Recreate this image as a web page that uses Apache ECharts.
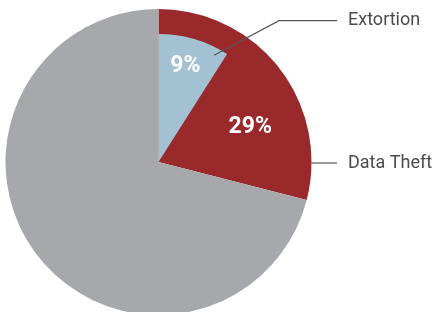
<!DOCTYPE html>
<html>
<head>
<meta charset="utf-8">
<script src="https://cdn.jsdelivr.net/npm/echarts@6/dist/echarts.min.js"></script>
<style>
  html, body { margin: 0; padding: 0; background: #fff; }
  #chart { width: 432px; height: 312px; }
</style>
</head>
<body>
<div id="chart"></div>
<script>
// data
var outerNames = ['Data Theft', 'Other'];
var outerValues = [29, 71];
var innerNames = ['Extortion', 'Rest'];
var innerValues = [9, 91];

var RED = '#9a292b', GRAY = '#a7a8ab', BLUE = '#a3c1d3', TEXT = '#4a4a50', LINE = '#555659';

// pie geometry
var cx = 158.5, cy = 162, R = 153, r = 128;
var labelX = 348;

function polar(deg, rad) {
  var a = deg * Math.PI / 180;
  return [cx + rad * Math.sin(a), cy - rad * Math.cos(a)];
}
function pctDeg(p) { return p * 3.6; }

var myChart = echarts.init(document.getElementById('chart'));

var pctFont = { color: '#fff', fontFamily: 'Roboto', fontWeight: 'bold', fontSize: 23 };
var nameFont = { color: TEXT, fontFamily: 'Roboto', fontSize: 18 };

function pieBase(radius, names, values, colors) {
  return {
    type: 'pie',
    center: [cx, cy],
    radius: radius,
    startAngle: 90,
    clockwise: true,
    silent: true,
    animation: false,
    avoidLabelOverlap: false,
    emphasis: { disabled: true },
    data: names.map(function (n, i) {
      return { name: n, value: values[i], itemStyle: { color: colors[i] } };
    })
  };
}

// outer pie: percentage label
var outer = pieBase(R, outerNames, outerValues, [RED, GRAY]);
outer.label = Object.assign({ show: true, position: 'inside', formatter: '{c}%' }, pctFont);
outer.data[1].label = { show: false };
outer.labelLayout = function (p) {
  if (p.dataIndex !== 0) return {};
  var pt = polar(pctDeg((innerValues[0] + outerValues[0]) / 2), R * 0.645);
  return { x: pt[0], y: pt[1] + 2, align: 'center', verticalAlign: 'middle' };
};

// inner pie: percentage label
var inner = pieBase(r, innerNames, innerValues, [BLUE, 'rgba(0,0,0,0)']);
inner.label = Object.assign({ show: true, position: 'inside', formatter: '{c}%' }, pctFont);
inner.data[1].label = { show: false };
inner.labelLayout = function (p) {
  if (p.dataIndex !== 0) return {};
  var pt = polar(pctDeg(innerValues[0] / 2) * 0.95, r * 0.79);
  return { x: pt[0], y: pt[1] + 2, align: 'center', verticalAlign: 'middle' };
};

// transparent copies carrying the name labels with leader lines (drawn on top)
var outerNamesSeries = pieBase(R, outerNames, outerValues, ['rgba(0,0,0,0)', 'rgba(0,0,0,0)']);
outerNamesSeries.z = 5;
outerNamesSeries.label = Object.assign({ show: true, position: 'outside', formatter: '{b}' }, nameFont);
outerNamesSeries.labelLine = { show: true, lineStyle: { color: LINE, width: 1.2 } };
outerNamesSeries.data[1].label = { show: false };
outerNamesSeries.data[1].labelLine = { show: false };
outerNamesSeries.labelLayout = function (p) {
  if (p.dataIndex !== 0) return {};
  var y = cy + 1;
  return {
    x: labelX, y: y, align: 'left', verticalAlign: 'middle',
    labelLinePoints: [[cx + R, y], [labelX - 20, y], [labelX - 11, y]]
  };
};

var innerNamesSeries = pieBase(r, innerNames, innerValues, ['rgba(0,0,0,0)', 'rgba(0,0,0,0)']);
innerNamesSeries.z = 5;
innerNamesSeries.label = Object.assign({ show: true, position: 'outside', formatter: '{b}' }, nameFont);
innerNamesSeries.labelLine = { show: true, lineStyle: { color: LINE, width: 1.2 } };
innerNamesSeries.data[1].label = { show: false };
innerNamesSeries.data[1].labelLine = { show: false };
innerNamesSeries.labelLayout = function (p) {
  if (p.dataIndex !== 0) return {};
  var start = polar(pctDeg(innerValues[0]) * 0.85, r * 0.94);
  var y = 20.7;
  return {
    x: labelX, y: y, align: 'left', verticalAlign: 'middle',
    labelLinePoints: [start, [labelX - 69, y], [labelX - 11, y]]
  };
};

myChart.setOption({
  animation: false,
  series: [outer, inner, outerNamesSeries, innerNamesSeries]
});
</script>
</body>
</html>
